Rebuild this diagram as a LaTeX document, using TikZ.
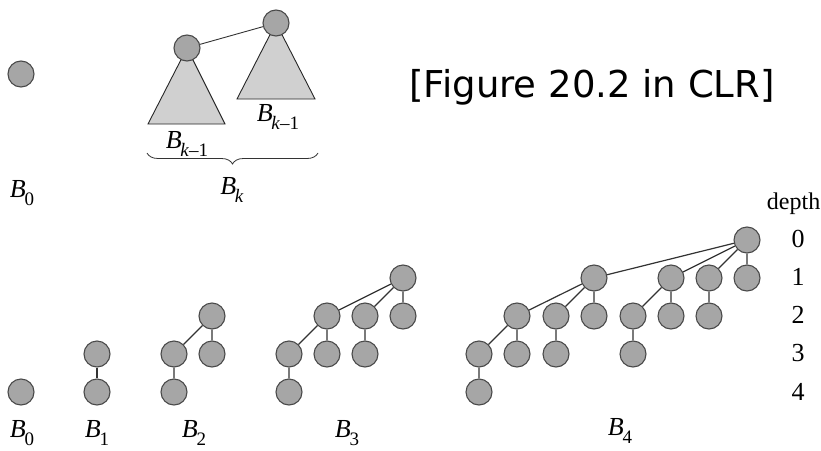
\documentclass[tikz,border=0pt]{standalone}
\usepackage{fontspec}
\setmainfont{Liberation Serif}
\newfontfamily\capfont{DejaVu Sans}
\usetikzlibrary{decorations.pathreplacing}
\definecolor{nodegray}{HTML}{A6A6A6}
\definecolor{trigray}{HTML}{D0D0D0}
\definecolor{rimgray}{HTML}{4A4A4A}
\newcommand\Bl[1]{\textit{B}\kern-0.05em\raisebox{-0.3em}{\fontsize{19}{19}\selectfont #1}}
\tikzset{
  bn/.style={circle, fill=nodegray, draw=rimgray, line width=1.1pt, minimum size=26pt, inner sep=0pt},
  ed/.style={draw=black!80, line width=1.2pt},
  tri/.style={fill=trigray, draw=black!85, line width=0.9pt},
  blab/.style={font=\fontsize{26}{26}\selectfont, inner sep=0pt},
  dlab/.style={font=\fontsize{26}{26}\selectfont, inner sep=0pt},
}
\begin{document}
\begin{tikzpicture}[x=1pt,y=-1pt]
\useasboundingbox (0,0) rectangle (821,450);
% ---------- top part ----------
\node[bn] (t0) at (21,74) {};
\node[blab] (t0l) at (22,193) {\Bl{0}};
\draw[tri] (187,48) -- (148,124) -- (225,124) -- cycle;
\draw[tri] (276,23) -- (237,99) -- (315,99) -- cycle;
\node[bn] (tl) at (187,48) {};
\node[bn] (tr) at (276,23) {};
\draw[ed, line width=0.9pt] (tl) -- (tr);
\node[blab] (tll) at (187,144) {\Bl{\textit{k}–1}};
\node[blab] (trl) at (278,117) {\Bl{\textit{k}–1}};
\draw[decorate, decoration={brace, mirror, amplitude=11pt}, line width=0.8pt, black!80] (147,153) -- (318,153);
\node[blab] (tkl) at (232,190) {\Bl{\textit{k}}};
\node[font=\capfont\fontsize{37}{37}\selectfont, inner sep=0pt] (cap) at (592,87) {[Figure 20.2 in CLR]};
% ---------- depth labels ----------
\node[font=\fontsize{24}{24}\selectfont, inner sep=0pt, anchor=base east] (dep) at (820.5,209) {depth};
\foreach \d/\y in {0/239,1/277,2/315,3/353,4/392}
  \node[dlab] (d\d) at (798,\y) {\d};
% ---------- B0 ----------
\node[bn] (a0) at (21,392) {};
\node[blab] (la) at (22,433) {\Bl{0}};
% ---------- B1 ----------
\node[bn] (b0) at (97,354) {};
\node[bn] (b1) at (97,392) {};
\draw[ed] (b0) -- (b1);
\node[blab] (lb) at (97,433) {\Bl{1}};
% ---------- B2 ----------
\node[bn] (c0) at (212,316) {};
\node[bn] (c1) at (174,354) {};
\node[bn] (c2) at (212,354) {};
\node[bn] (c3) at (174,392) {};
\draw[ed] (c0) -- (c1) (c0) -- (c2) (c1) -- (c3);
\node[blab] (lc) at (194,433) {\Bl{2}};
% ---------- B3 ----------
\node[bn] (e0) at (403,278) {};
\node[bn] (e1) at (327,316) {};
\node[bn] (e2) at (365,316) {};
\node[bn] (e3) at (403,316) {};
\node[bn] (e4) at (289,354) {};
\node[bn] (e5) at (327,354) {};
\node[bn] (e6) at (365,354) {};
\node[bn] (e7) at (289,392) {};
\draw[ed] (e0) -- (e1) (e0) -- (e2) (e0) -- (e3)
          (e1) -- (e4) (e1) -- (e5) (e2) -- (e6) (e4) -- (e7);
\node[blab] (le) at (347,433) {\Bl{3}};
% ---------- B4 ----------
\node[bn] (f0) at (747,240) {};
\node[bn] (f1) at (594,278) {};
\node[bn] (f2) at (671,278) {};
\node[bn] (f3) at (709,278) {};
\node[bn] (f4) at (747,278) {};
\node[bn] (f5) at (517,316) {};
\node[bn] (f6) at (556,316) {};
\node[bn] (f7) at (594,316) {};
\node[bn] (f8) at (633,316) {};
\node[bn] (f9) at (671,316) {};
\node[bn] (f10) at (709,316) {};
\node[bn] (f11) at (479,354) {};
\node[bn] (f12) at (517,354) {};
\node[bn] (f13) at (556,354) {};
\node[bn] (f14) at (633,354) {};
\node[bn] (f15) at (479,392) {};
\draw[ed] (f0) -- (f1) (f0) -- (f2) (f0) -- (f3) (f0) -- (f4)
          (f1) -- (f5) (f1) -- (f6) (f1) -- (f7)
          (f2) -- (f8) (f2) -- (f9) (f3) -- (f10)
          (f5) -- (f11) (f5) -- (f12) (f6) -- (f13) (f8) -- (f14)
          (f11) -- (f15);
\node[blab] (lf) at (620,431) {\Bl{4}};
\end{tikzpicture}
\end{document}
